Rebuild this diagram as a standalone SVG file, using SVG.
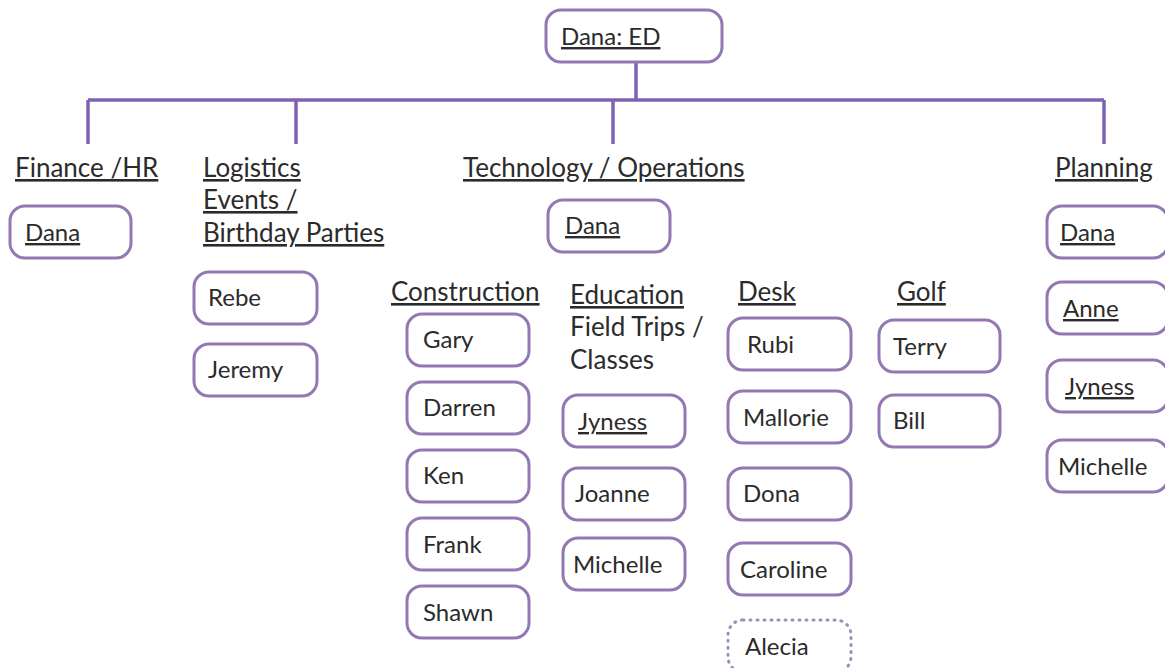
<svg xmlns="http://www.w3.org/2000/svg" width="1165" height="668" viewBox="0 0 1165 668">
<style>
.b{fill:#fff;stroke:#9478b4;stroke-width:3}
.d{fill:#fff;stroke:#a08bbf;stroke-width:3;stroke-dasharray:1 6;stroke-linecap:round}
.t{font-family:Lato,"Open Sans",sans-serif;font-size:24px;fill:#2b2b2b}
.h{font-size:26px}
.u{text-decoration:underline}
.c{fill:none;stroke:#7f62b3;stroke-width:3.5}
</style>
<rect width="1165" height="668" fill="#fff"/>
<g id="connectors">
<path class="c" d="M636 62V100M88 100H1104M88 100V144M296 100V144M613 100V144M1104 100V144"/>
</g>
<g id="ed"><rect class="b" x="546" y="10" width="176" height="52" rx="15"/><text class="t u" x="561" y="45">Dana: ED</text></g>
<g id="finance-label"><text class="t h u" x="15" y="177">Finance /HR</text></g>
<g id="logistics-label"><text class="t h u" x="203" y="177">Logistics</text><text class="t h u" x="203" y="209">Events /</text><text class="t h u" x="203" y="242">Birthday Parties</text></g>
<g id="tech-label"><text class="t h u" x="463" y="177">Technology / Operations</text></g>
<g id="planning-label"><text class="t h u" x="1055" y="177">Planning</text></g>
<g id="fin-dana"><rect class="b" x="10" y="206" width="121" height="52" rx="15"/><text class="t u" x="25" y="241">Dana</text></g>
<g id="tech-dana"><rect class="b" x="548" y="200" width="122" height="52" rx="15"/><text class="t u" x="565" y="234">Dana</text></g>
<g id="rebe"><rect class="b" x="194" y="272" width="123" height="52" rx="15"/><text class="t" x="208" y="306">Rebe</text></g>
<g id="jeremy"><rect class="b" x="194" y="344" width="123" height="52" rx="15"/><text class="t" x="208" y="378">Jeremy</text></g>
<g id="construction-label"><text class="t h u" x="391" y="301">Construction</text></g>
<g id="education-label"><text class="t h u" x="570" y="304">Education</text><text class="t h" x="570" y="336">Field Trips /</text><text class="t h" x="570" y="369">Classes</text></g>
<g id="desk-label"><text class="t h u" x="738" y="301">Desk</text></g>
<g id="golf-label"><text class="t h u" x="897" y="301">Golf</text></g>
<g id="gary"><rect class="b" x="407" y="314" width="122" height="52" rx="15"/><text class="t" x="423" y="348">Gary</text></g>
<g id="darren"><rect class="b" x="407" y="382" width="122" height="52" rx="15"/><text class="t" x="423" y="416">Darren</text></g>
<g id="ken"><rect class="b" x="407" y="450" width="122" height="52" rx="15"/><text class="t" x="423" y="484">Ken</text></g>
<g id="frank"><rect class="b" x="407" y="518" width="122" height="52" rx="15"/><text class="t" x="423" y="553">Frank</text></g>
<g id="shawn"><rect class="b" x="407" y="586" width="122" height="52" rx="15"/><text class="t" x="423" y="621">Shawn</text></g>
<g id="edu-jyness"><rect class="b" x="563" y="395" width="122" height="52" rx="15"/><text class="t u" x="578" y="430">Jyness</text></g>
<g id="joanne"><rect class="b" x="563" y="468" width="122" height="52" rx="15"/><text class="t" x="575" y="502">Joanne</text></g>
<g id="edu-michelle"><rect class="b" x="563" y="538" width="122" height="52" rx="15"/><text class="t" x="573" y="573">Michelle</text></g>
<g id="rubi"><rect class="b" x="728" y="318" width="123" height="52" rx="15"/><text class="t" x="747" y="353">Rubi</text></g>
<g id="mallorie"><rect class="b" x="728" y="391" width="123" height="52" rx="15"/><text class="t" x="743" y="426">Mallorie</text></g>
<g id="dona"><rect class="b" x="728" y="468" width="123" height="52" rx="15"/><text class="t" x="743" y="502">Dona</text></g>
<g id="caroline"><rect class="b" x="728" y="543" width="123" height="52" rx="15"/><text class="t" x="740" y="578">Caroline</text></g>
<g id="alecia"><rect class="d" x="728" y="620" width="123" height="52" rx="15"/><text class="t" x="745" y="655">Alecia</text></g>
<g id="terry"><rect class="b" x="879" y="320" width="121" height="52" rx="15"/><text class="t" x="893" y="355">Terry</text></g>
<g id="bill"><rect class="b" x="879" y="395" width="121" height="52" rx="15"/><text class="t" x="893" y="429">Bill</text></g>
<g id="plan-dana"><rect class="b" x="1047" y="206" width="121" height="52" rx="15"/><text class="t u" x="1060" y="241">Dana</text></g>
<g id="anne"><rect class="b" x="1047" y="282" width="121" height="52" rx="15"/><text class="t u" x="1063" y="317">Anne</text></g>
<g id="plan-jyness"><rect class="b" x="1047" y="360" width="121" height="52" rx="15"/><text class="t u" x="1065" y="395">Jyness</text></g>
<g id="plan-michelle"><rect class="b" x="1047" y="440" width="121" height="52" rx="15"/><text class="t" x="1058" y="475">Michelle</text></g>
</svg>
